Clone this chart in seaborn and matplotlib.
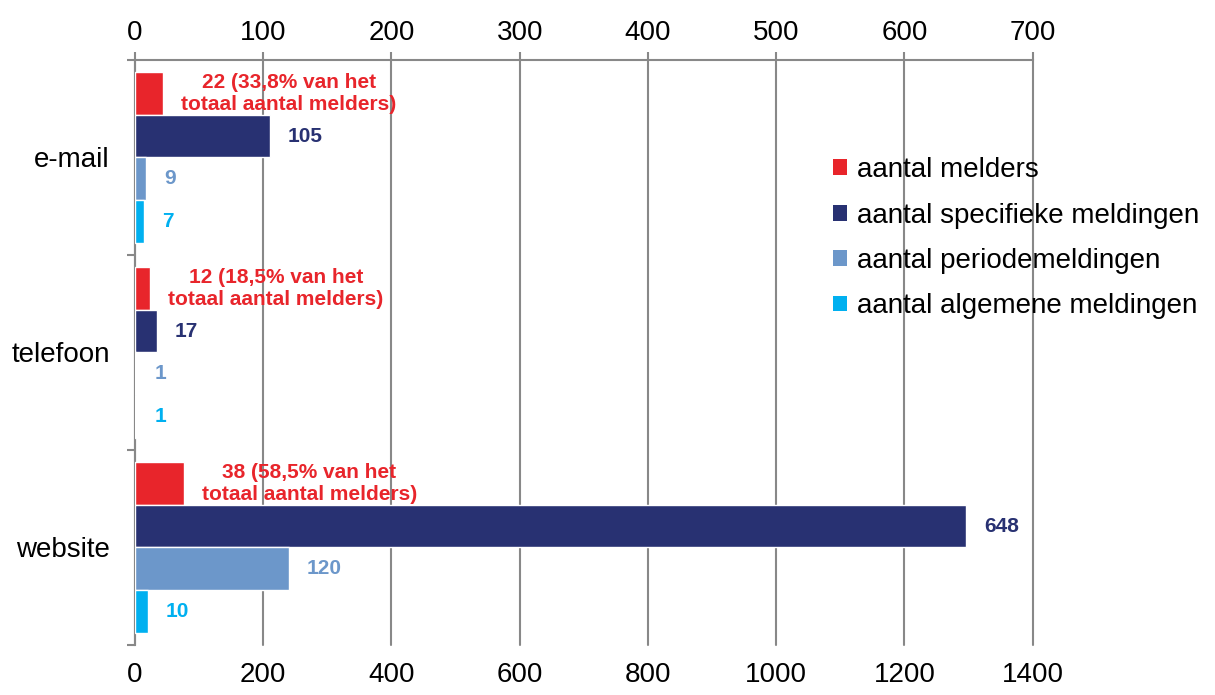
import matplotlib.pyplot as plt
import seaborn as sns
import pandas as pd
from matplotlib.patches import Patch

# gegevens per kanaal
kanalen = ['e-mail', 'telefoon', 'website']
reeksen = ['aantal melders', 'aantal specifieke meldingen',
           'aantal periodemeldingen', 'aantal algemene meldingen']
melders = [22, 12, 38]
melders_pct = ['33,8%', '18,5%', '58,5%']
specifiek = [105, 17, 648]
periode = [9, 1, 120]
algemeen = [7, 1, 10]
kleuren = ['#E8252B', '#283172', '#6C97CA', '#00B0F0']

waarden = [melders, specifiek, periode, algemeen]
df = pd.DataFrame({
    'kanaal': [k for _ in reeksen for k in kanalen],
    'reeks': [r for r in reeksen for _ in kanalen],
    'aantal': [v for rij in waarden for v in rij],
})

sns.set_theme(style="white")
plt.rcParams['font.family'] = ['Liberation Sans', 'DejaVu Sans']
plt.rcParams['text.color'] = 'black'
plt.rcParams['xtick.labelcolor'] = 'black'
plt.rcParams['ytick.labelcolor'] = 'black'

fig = plt.figure(figsize=(12.15, 6.95), dpi=100)
ax = fig.add_axes([0.111, 0.072, 0.739, 0.8417])

sns.barplot(data=df, y='kanaal', x='aantal', hue='reeks', hue_order=reeksen,
            order=kanalen, palette=kleuren, orient='h', width=0.88,
            saturation=1, ax=ax, zorder=3, legend=False)

ax.set_xlim(0, 700)
ax.set_ylim(2.5, -0.5)
ax.set_xlabel('')
ax.set_ylabel('')

# bovenste as
ax.xaxis.tick_top()
ax.set_xticks(range(0, 701, 100))
ax.tick_params(axis='x', colors='#888888', length=6, width=1.5, labelsize=20,
               labelcolor='black', pad=4)
ax.grid(axis='x', color='#888888', linewidth=1.5, zorder=0)
for gl in ax.get_xgridlines():
    gl.set_clip_on(False)
ax.set_axisbelow(True)

# linker as
ax.tick_params(axis='y', length=0, labelsize=20, labelcolor='black', pad=18)
ax.set_yticks([-0.5, 0.5, 1.5, 2.5], minor=True)
ax.tick_params(axis='y', which='minor', length=6, width=1.5, color='#888888', left=True)
for s in ['right', 'bottom']:
    ax.spines[s].set_visible(False)
for s in ['top', 'left']:
    ax.spines[s].set_color('#888888')
    ax.spines[s].set_linewidth(1.5)

# onderste as (dubbele schaal)
sec = ax.secondary_xaxis('bottom', functions=(lambda x: x * 2, lambda x: x / 2))
sec.set_xticks(range(0, 1401, 200))
sec.tick_params(length=0, labelsize=20, pad=12, labelcolor='black')
sec.spines['bottom'].set_visible(False)

# labels
for cont, kleur, rij in zip(ax.containers, kleuren, waarden):
    for i, (bar, v) in enumerate(zip(cont, rij)):
        yc = bar.get_y() + bar.get_height() / 2
        if kleur == kleuren[0]:
            tekst = f"{v} ({melders_pct[i]} van het\ntotaal aantal melders)"
            ax.annotate(tekst, (bar.get_width(), yc), xytext=(13, 0),
                        textcoords='offset points', ha='left', va='center',
                        multialignment='center', color=kleur, fontsize=15,
                        fontweight='bold', linespacing=1.2)
        else:
            ax.annotate(str(v), (bar.get_width(), yc), xytext=(13, 0),
                        textcoords='offset points', ha='left', va='center',
                        color=kleur, fontsize=15, fontweight='bold')

handles = [Patch(facecolor=k, edgecolor='none') for k in kleuren]
fig.legend(handles, reeksen, loc='upper left', bbox_to_anchor=(0.6856, 0.774),
           frameon=False, fontsize=20, handlelength=0.5, handleheight=0.5,
           handletextpad=0.35, labelspacing=0.7, borderpad=0, borderaxespad=0,
           labelcolor='black')

plt.savefig('out.png', dpi=100)
